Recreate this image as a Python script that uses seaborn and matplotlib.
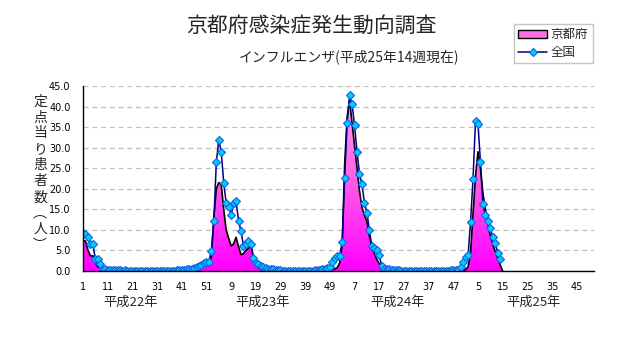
import numpy as np
import matplotlib
matplotlib.use("Agg")
import matplotlib.pyplot as plt
import matplotlib.transforms as mtransforms
from matplotlib.colors import LinearSegmentedColormap
from matplotlib.patches import Polygon, Patch
from matplotlib.lines import Line2D
import seaborn as sns

# ---- data: influenza patients per sentinel, weekly ----
weeks_per_year = [52, 52, 52, 52]

national_h22 = [9.2, 8.9, 8.2, 6.6, 6.5, 2.9, 2.9, 1.6, 0.6, 0.4,
                0.3, 0.3, 0.2, 0.2, 0.2, 0.2, 0.1, 0.2, 0.1, 0.1,
                0.1, 0.1, 0.1, 0.1, 0.0, 0.1, 0.0, 0.0, 0.0, 0.0,
                0.0, 0.0, 0.0, 0.0, 0.1, 0.1, 0.1, 0.1, 0.2, 0.2,
                0.3, 0.3, 0.4, 0.5, 0.6, 0.7, 0.9, 1.2, 1.5, 2.0,
                2.2, 2.3]
national_h23 = [4.9, 12.1, 26.4, 31.9, 29.0, 21.5, 16.5, 15.6, 13.6, 16.6,
                17.1, 12.2, 9.7, 6.1, 6.6, 7.4, 6.6, 3.2, 1.9, 1.7,
                1.3, 1.0, 0.8, 0.6, 0.5, 0.4, 0.3, 0.2, 0.2, 0.1,
                0.1, 0.1, 0.1, 0.1, 0.1, 0.1, 0.1, 0.1, 0.1, 0.1,
                0.1, 0.1, 0.2, 0.2, 0.3, 0.4, 0.5, 0.7, 0.9, 2.1,
                3.2, 3.6]
national_h24 = [3.7, 7.1, 22.7, 36.1, 42.7, 40.6, 35.4, 29.0, 23.7, 21.1,
                16.6, 14.2, 10.0, 6.0, 5.5, 5.1, 3.8, 1.2, 0.6, 0.5,
                0.4, 0.3, 0.3, 0.2, 0.2, 0.1, 0.1, 0.1, 0.1, 0.0,
                0.0, 0.0, 0.0, 0.0, 0.0, 0.0, 0.0, 0.1, 0.1, 0.1,
                0.1, 0.1, 0.1, 0.1, 0.1, 0.2, 0.2, 0.2, 0.3, 1.0,
                2.1, 3.5]
national_h25 = [3.9, 12.0, 22.4, 36.6, 35.8, 26.6, 16.2, 13.6, 12.2, 10.4,
                8.2, 6.7, 4.4, 2.8]

kyoto_h22 = [7.4, 7.3, 5.1, 3.7, 3.7, 2.0, 1.0, 1.0, 0.3, 0.2,
             0.2, 0.1, 0.1, 0.1, 0.1, 0.1, 0.0, 0.1, 0.0, 0.0,
             0.0, 0.0, 0.0, 0.0, 0.0, 0.0, 0.0, 0.0, 0.0, 0.0,
             0.0, 0.0, 0.0, 0.0, 0.0, 0.0, 0.0, 0.0, 0.1, 0.1,
             0.1, 0.1, 0.2, 0.2, 0.3, 0.4, 0.5, 0.7, 1.0, 1.2,
             1.4, 1.6]
kyoto_h23 = [3.5, 13.0, 20.0, 21.5, 21.0, 15.0, 10.0, 8.0, 6.1, 6.6,
             8.2, 6.0, 4.0, 4.2, 5.0, 5.5, 6.1, 3.5, 1.5, 0.8,
             0.5, 0.3, 0.2, 0.2, 0.1, 0.1, 0.1, 0.0, 0.0, 0.0,
             0.0, 0.0, 0.0, 0.0, 0.0, 0.0, 0.0, 0.0, 0.0, 0.0,
             0.0, 0.0, 0.0, 0.1, 0.1, 0.1, 0.2, 0.2, 0.3, 0.4,
             0.5, 0.8]
kyoto_h24 = [2.0, 6.5, 26.0, 37.5, 41.5, 36.0, 30.5, 25.0, 19.5, 15.5,
             13.5, 12.0, 8.5, 6.0, 4.3, 2.8, 1.8, 0.7, 0.3, 0.2,
             0.1, 0.1, 0.1, 0.0, 0.0, 0.0, 0.0, 0.0, 0.0, 0.0,
             0.0, 0.0, 0.0, 0.0, 0.0, 0.0, 0.0, 0.0, 0.0, 0.0,
             0.0, 0.0, 0.0, 0.0, 0.0, 0.0, 0.0, 0.1, 0.1, 0.1,
             0.2, 0.4]
kyoto_h25 = [1.0, 4.5, 14.0, 23.0, 29.0, 25.0, 19.0, 15.0, 11.5, 8.5,
             6.5, 4.7, 3.2, 1.5]

week_tick_labels = ["1", "11", "21", "31", "41", "51",
                    "9", "19", "29", "39", "49",
                    "7", "17", "27", "37", "47",
                    "5", "15", "25", "35", "45"]
year_labels = ["平成22年", "平成23年", "平成24年", "平成25年"]
series_names = ["京都府", "全国"]
y_ticks = [0, 5, 10, 15, 20, 25, 30, 35, 40, 45]

title = "京都府感染症発生動向調査"
subtitle = "インフルエンザ(平成25年14週現在)"
ylabel_chars = ["定", "点", "当", "り", "患", "者", "数", "︵", "人", "︶"]

# ---- assemble series ----
n_weeks = sum(weeks_per_year)
national = np.array(national_h22 + national_h23 + national_h24 + national_h25)
kyoto = np.array(kyoto_h22 + kyoto_h23 + kyoto_h24 + kyoto_h25)
x_nat = np.arange(len(national))
x_all = np.arange(n_weeks)
# blank weeks of an area series sit on the baseline
kyoto_full = np.zeros(n_weeks)
kyoto_full[:len(kyoto)] = kyoto

# ---- style ----
sns.set_style("white")
plt.rcParams["font.family"] = ["Noto Sans CJK JP", "DejaVu Sans"]

W, H = 632, 348
fig = plt.figure(figsize=(W / 100, H / 100), dpi=100)
fig.patch.set_facecolor("white")
ax = fig.add_axes([83 / W, 1 - 271 / H, 511 / W, 185 / H])
ax.set_facecolor("white")

# gradient-filled area for Kyoto
verts = np.column_stack([np.r_[x_all, x_all[::-1]],
                         np.r_[kyoto_full, np.zeros(n_weeks)]])
clip = Polygon(verts, closed=True, transform=ax.transData,
               facecolor="none", edgecolor="none")
ax.add_patch(clip)
cmap = LinearSegmentedColormap.from_list("kyoto_fill", ["#ff00ff", "#ff60e6", "#ffa8ec"])
grad = np.linspace(0, 1, 256).reshape(-1, 1)
im = ax.imshow(grad, extent=[0, n_weeks - 1, 0, 45], origin="lower",
               aspect="auto", cmap=cmap, zorder=2, interpolation="bilinear")
im.set_clip_path(clip)

# Kyoto outline
n_k = min(len(kyoto) + 1, n_weeks)
sns.lineplot(x=x_all[:n_k], y=kyoto_full[:n_k], color="black", linewidth=1.2,
             ax=ax, zorder=3, legend=False)

# national line with diamond markers
sns.lineplot(x=x_nat, y=national, color="#000080", linewidth=1.1,
             marker="D", markersize=4.4, markerfacecolor="#00ccff",
             markeredgecolor="#1060e0", markeredgewidth=0.8,
             ax=ax, zorder=4, legend=False)

# ---- axes ----
ax.set_xlim(0, n_weeks - 1)
ax.set_ylim(0, 45)
ax.set_yticks(y_ticks)
ax.set_yticklabels([f"{v:.1f}" for v in y_ticks], fontsize=7, family="DejaVu Sans")
major_x = np.arange(0, n_weeks, 10)[:len(week_tick_labels)]
ax.set_xticks(major_x)
ax.set_xticklabels(week_tick_labels, fontsize=7, family="DejaVu Sans")
ax.set_xticks(np.arange(5, n_weeks, 10), minor=True)
ax.tick_params(axis="y", direction="out", length=3, width=0.8, pad=6, colors="black")
ax.tick_params(axis="x", which="both", direction="out", length=3, width=0.8,
               pad=5, colors="black")
ax.set_xlabel("")
ax.set_ylabel("")

ax.yaxis.grid(True, color="#c0c0c0", linestyle=(0, (4, 3)), linewidth=0.9)
ax.xaxis.grid(False)
ax.set_axisbelow(True)
for side in ["top", "right"]:
    ax.spines[side].set_visible(False)
for side in ["left", "bottom"]:
    ax.spines[side].set_color("black")
    ax.spines[side].set_linewidth(1.0)
    ax.spines[side].set_zorder(5)

# year captions under the week numbers
trans = mtransforms.blended_transform_factory(ax.transData, fig.transFigure)
year_centres = [19.1, 72.9, 127.3, 182.4]
for xc, lab in zip(year_centres, year_labels):
    ax.text(xc, 1 - 302 / H, lab, transform=trans, ha="center", va="center",
            fontsize=9.5)

# titles
fig.text(311 / W, 1 - 26 / H, title, ha="center", va="center", fontsize=15)
fig.text(349 / W, 1 - 56.5 / H, subtitle, ha="center", va="center", fontsize=10)

# vertical y-axis caption, one glyph per row
for k, ch in enumerate(ylabel_chars):
    fig.text(40 / W, 1 - (101.7 + k * 15.9) / H, ch, ha="center", va="center",
             fontsize=10)

# legend
handles = [Patch(facecolor="#ff70e4", edgecolor="black", linewidth=1.0),
           Line2D([], [], color="#000080", linewidth=1.1, marker="D",
                  markersize=4.4, markerfacecolor="#00ccff",
                  markeredgecolor="#1060e0", markeredgewidth=0.8)]
leg = fig.legend(handles, series_names, loc="upper left",
                 bbox_to_anchor=(514 / W, 1 - 24 / H), frameon=True,
                 fancybox=False, edgecolor="#b8b8b8", fontsize=9,
                 handlelength=2.3, handleheight=0.6, borderpad=0.35,
                 labelspacing=0.35, handletextpad=0.3, borderaxespad=0,
                 numpoints=1)
leg.get_frame().set_linewidth(1.0)

fig.savefig("out.png", dpi=100, facecolor="white")
